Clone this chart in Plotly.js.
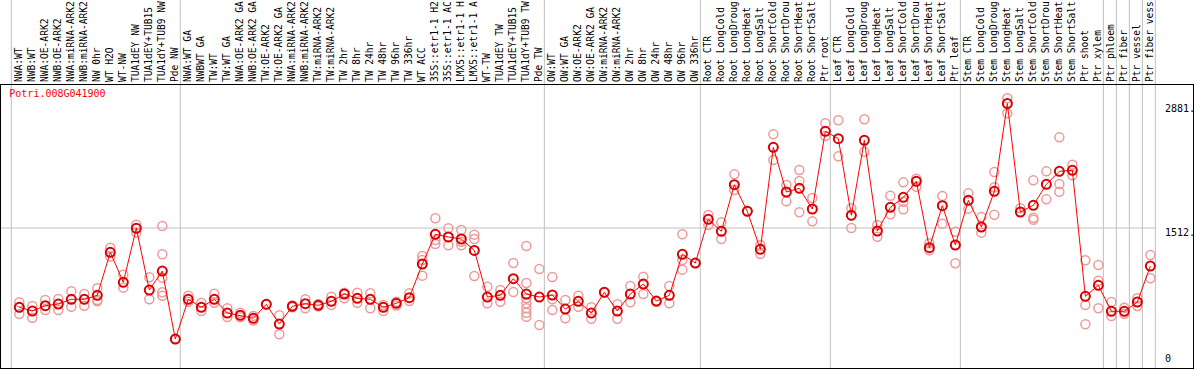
<!DOCTYPE html>
<html>
<head>
<meta charset="utf-8">
<script src="https://cdn.plot.ly/plotly-3.0.1.min.js"></script>
<style>html,body{margin:0;padding:0;background:#fff;}#chart{width:1194px;height:370px;}</style>
</head>
<body>
<div id="chart"></div>
<script>
const geneId = 'Potri.008G041900';

const categories = [
  'NWA:WT','NWB:WT','NWA:OE-ARK2','NWB:OE-ARK2','NWA:miRNA-ARK2','NWB:miRNA-ARK2','NW 0hr','WT H2O','WT-NW','TUA1dEY NW','TUA1dEY+TUB15','TUA1dY+TUB9 NW','Pde NW',
  'NWA:WT GA','NWBWT GA','TW:WT','TW:WT GA','NWA:OE-ARK2 GA','NWB:OE-ARK2 GA','TW:OE-ARK2','TW:OE-ARK2 GA','NWA:miRNA-ARK2','NWB:miRNA-ARK2','TW:miRNA-ARK2','TW:miRNA-ARK2',
  'TW 2hr','TW 8hr','TW 24hr','TW 48hr','TW 96hr','TW 336hr','WT ACC','35S::etr1-1 H2','35S::etr1-1 AC','LMX5::etr1-1 H','LMX5::etr1-1 A','WT-TW','TUA1dEY TW','TUA1dEY+TUB15','TUA1dY+TUB9 TW','Pde TW',
  'OW:WT','OW:WT GA','OW:OE-ARK2','OW:OE-ARK2 GA','OW:miRNA-ARK2','OW:miRNA-ARK2','OW 2hr','OW 8hr','OW 24hr','OW 48hr','OW 96hr','OW 336hr',
  'Root CTR','Root LongCold','Root LongDroug','Root LongHeat','Root LongSalt','Root ShortCold','Root ShortDrou','Root ShortHeat','Root ShortSalt','Ptr root',
  'Leaf CTR','Leaf LongCold','Leaf LongDroug','Leaf LongHeat','Leaf LongSalt','Leaf ShortCold','Leaf ShortDrou','Leaf ShortHeat','Leaf ShortSalt','Ptr leaf',
  'Stem CTR','Stem LongCold','Stem LongDroug','Stem LongHeat','Stem LongSalt','Stem ShortCold','Stem ShortDrou','Stem ShortHeat','Stem ShortSalt','Ptr shoot','Ptr xylem',
  'Ptr phloem','Ptr fiber','Ptr vessel','Ptr fiber vess'
];

const meanValues = [
  640,599,658,676,728,728,772,1245,915,1509,830,1039,291,
  728,640,728,577,552,519,673,456,651,680,662,706,
  786,739,728,640,684,746,1116,1443,1413,1391,1266,753,772,955,786,753,
  775,621,706,577,805,599,786,896,709,772,1223,1127,
  1607,1475,1988,1695,1278,2399,1908,1948,1721,2575,
  2494,1652,2476,1479,1739,1849,2025,1296,1758,1325,
  1816,1523,1915,2881,1688,1762,1992,2135,2146,761,882,
  596,596,698,1094
];

const replicateValues = [
  [695,566,640],[654,526],[720,610],[731,610],[816,647],[786,658],[849,706,720],[1296,1197],[999,856],[1549,1461],[970,728],[1534,1223,966,805,768],[291],
  [768,700],[691,599],[790,691],[629,533],[580,530],[545,495],[673],[552,343],[640,660],[728,629],[675,650],[757,665],
  [800,739],[801,691],[794,629],[665,599],[700,660],[794,709],[1204,988,1160],[1619,1336,1380],[1509,1322],[1490,1322,1360],[1439,1391,984],[867,684],[830,702],[1127,808],[1314,907,739,684,629,581,537],[1061,445],
  [973,728,610],[720,519],[768,646],[640,515],[805],[673,515],[874,695],[977,786],[700],[874,684],[1443,1160,1054],[1127],
  [1655,1545],[1574,1391],[2102,1930],[1700],[1325,1226],[2542,2260],[1985,1805],[2150,2029,1685],[1842,1585],[2663,2523],
  [2696,2300],[1729,1512],[2707,2351],[1545,1416],[1867,1663],[2014,1718,1800],[2054,1966],[1344,1267],[1864,1560],[1472,1124],
  [1893,1725],[1633,1461],[2128,1960,1658],[2938,2773],[1729],[2036,1625,1603],[2135,1827],[2509,1996,1911],[2208,2091],[1157,665,453],[1105,933,629],
  [698,544],[636,570],[739,654],[1215,959]
];

// last category index of each group (vertical separators drawn after them)
const groupEnds = [-1,12,40,52,62,72,83,84,85,86,87];

const yTickValues = [0,1512,2881];
const yTickLabels = ['0','1512.','2881.'];

const FONT = 'DejaVu Sans Mono, monospace';
const idx = categories.map((_, i) => i);

const repX = [], repY = [];
replicateValues.forEach((arr, i) => arr.forEach(v => { repX.push(i); repY.push(v); }));

const traces = [
  {
    x: repX, y: repY, type: 'scatter', mode: 'markers', hoverinfo: 'skip',
    marker: {symbol: 'circle-open', size: 9, color: '#ee9a9a', line: {width: 1.5, color: '#ee9a9a'}}
  },
  {
    x: idx, y: meanValues, type: 'scatter', mode: 'lines+markers',
    line: {color: '#ff0000', width: 1},
    marker: {symbol: 'circle-open', size: 9, color: '#d80000', line: {width: 2, color: '#d80000'}}
  }
];

const sepOffset = 0.385;
const shapes = groupEnds.map(g => ({
  type: 'line', xref: 'x', yref: 'paper', x0: g + sepOffset, x1: g + sepOffset, y0: 0, y1: 1.31,
  line: {color: '#c0c0c0', width: 1}, layer: 'below'
}));
shapes.push({
  type: 'line', xref: 'x', yref: 'y', x0: -1.5, x1: groupEnds[groupEnds.length - 1] + sepOffset,
  y0: yTickValues[1], y1: yTickValues[1], line: {color: '#c0c0c0', width: 1}, layer: 'below'
});

const annotations = yTickValues.map((v, k) => ({
  xref: 'paper', yref: 'y', x: 0.9748, y: v, xanchor: 'left',
  yanchor: v === 0 ? 'bottom' : 'top', yshift: v === 0 ? 0 : 3,
  text: yTickLabels[k], showarrow: false, font: {family: FONT, size: 10, color: '#000'}
}));

const layout = {
  width: 1194, height: 370,
  margin: {l: 1, r: 1, t: 85, b: 2, pad: 0},
  paper_bgcolor: '#fff', plot_bgcolor: '#fff',
  showlegend: false,
  title: {
    text: geneId, font: {family: FONT, size: 10, color: '#ff0000'},
    xref: 'container', x: 9.3 / 1194, xanchor: 'left',
    yref: 'container', y: 1 - 90 / 370, yanchor: 'top', pad: {t: 0, b: 0, l: 0, r: 0}
  },
  xaxis: {
    range: [-1.408, 90.28], side: 'top', tickmode: 'array', tickvals: idx, ticktext: categories,
    tickangle: -90, tickfont: {family: FONT, size: 9.6, color: '#000'},
    showgrid: false, zeroline: false, showline: true, mirror: true, linecolor: '#000', linewidth: 1,
    ticks: '', automargin: false, fixedrange: true
  },
  yaxis: {
    range: [-27.4, 3084.5], showticklabels: false, showgrid: false, zeroline: false,
    showline: true, mirror: true, linecolor: '#000', linewidth: 1, ticks: '', fixedrange: true
  },
  shapes: shapes,
  annotations: annotations
};

Plotly.newPlot('chart', traces, layout, {displayModeBar: false, staticPlot: true});
</script>
</body>
</html>
